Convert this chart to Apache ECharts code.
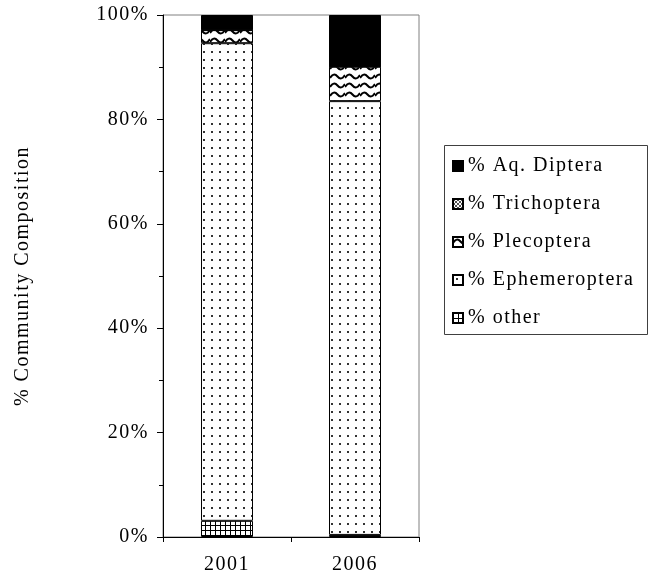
<!DOCTYPE html>
<html>
<head>
<meta charset="utf-8">
<script src="https://cdn.jsdelivr.net/npm/echarts@6/dist/echarts.min.js"></script>
<style>
html,body{margin:0;padding:0;background:#fff;}
#c{width:650px;height:586px;}
</style>
</head>
<body>
<div id="c"></div>
<script>
const categories = ['2001', '2006'];
const seriesNames = ['% other', '% Ephemeroptera', '% Plecoptera', '% Trichoptera', '% Aq. Diptera'];
const other = [3.1, 0.4];
const ephemeroptera = [91.5, 83.1];
const plecoptera = [2.5, 6.6];
const trichoptera = [0, 0];
const diptera = [2.9, 9.9];
const yTicks = [0, 20, 40, 60, 80, 100];
const legendOrder = ['% Aq. Diptera', '% Trichoptera', '% Plecoptera', '% Ephemeroptera', '% other'];

// the reference text is set with slightly spread letters
(function () {
  const proto = CanvasRenderingContext2D.prototype;
  const orig = proto.fillText;
  proto.fillText = function (t, x, y, m) {
    const prev = this.letterSpacing;
    this.letterSpacing = '1.5px';
    if (m === undefined) orig.call(this, t, x, y); else orig.call(this, t, x, y, m);
    this.letterSpacing = prev;
  };
})();

function tile(w, h, draw) {
  const c = document.createElement('canvas');
  c.width = w; c.height = h;
  const g = c.getContext('2d');
  g.fillStyle = '#fff'; g.fillRect(0, 0, w, h);
  draw(g);
  return { image: c, repeat: 'repeat' };
}
const dotPat = tile(8, 8, g => { g.fillStyle = '#333'; g.fillRect(3, 3, 2, 2); });
const gridPat = tile(5, 5, g => { g.fillStyle = '#000'; g.fillRect(0, 0, 5, 1); g.fillRect(0, 0, 1, 5); });
const wavePat = tile(15, 9, g => {
  g.strokeStyle = '#000'; g.lineWidth = 2;
  g.beginPath();
  g.moveTo(0, 6);
  g.quadraticCurveTo(3.75, 0, 7.5, 4.5);
  g.quadraticCurveTo(11.25, 9, 15, 3);
  g.stroke();
});
const trichPat = tile(4, 4, g => { g.fillStyle = '#555'; g.fillRect(0, 0, 2, 2); g.fillRect(2, 2, 2, 2); });

const values = [other, ephemeroptera, plecoptera, trichoptera, diptera];
const fills = [gridPat, dotPat, wavePat, trichPat, '#000'];

const chart = echarts.init(document.getElementById('c'), null, { renderer: 'canvas' });
const font = 'Liberation Serif, Times New Roman, serif';
const fs = 20;
chart.setOption({
  animation: false,
  textStyle: { fontFamily: font },
  grid: { left: 163, right: 231, top: 15, bottom: 49, show: true, borderColor: '#808080', borderWidth: 1, backgroundColor: 'transparent' },
  graphic: [{
    type: 'rect',
    shape: { x: 444.5, y: 145.5, width: 203, height: 189 },
    style: { fill: 'none', stroke: '#404040', lineWidth: 1 },
    z: 10
  }],
  legend: {
    data: legendOrder,
    orient: 'vertical',
    left: 444, top: 145,
    padding: [11, 0, 0, 8],
    itemWidth: 10, itemHeight: 10,
    itemGap: 18,
    itemTextGap: 12,
    icon: 'rect',
    textStyle: { fontFamily: font, fontSize: fs, color: '#000', lineHeight: 20 }
  },
  xAxis: {
    type: 'category',
    data: categories,
    axisLine: { lineStyle: { color: '#000', width: 1 } },
    axisTick: { show: true, length: 5, lineStyle: { color: '#000' } },
    axisLabel: { fontFamily: font, fontSize: fs, color: '#000', margin: 18 }
  },
  yAxis: {
    type: 'value',
    min: yTicks[0], max: yTicks[yTicks.length - 1], interval: 20,
    name: '% Community Composition',
    nameLocation: 'middle',
    nameGap: 130,
    nameRotate: 90,
    nameTextStyle: { fontFamily: font, fontSize: fs, color: '#000' },
    axisLine: { show: true, lineStyle: { color: '#000', width: 1 } },
    axisTick: { show: true, length: 6, lineStyle: { color: '#000' } },
    minorTick: { show: true, splitNumber: 2, length: 4, lineStyle: { color: '#000' } },
    splitLine: { show: false },
    axisLabel: { fontFamily: font, fontSize: fs, color: '#000', margin: 14, formatter: '{value}%' }
  },
  series: seriesNames.map((n, i) => ({
    name: n,
    type: 'bar',
    stack: 'total',
    barWidth: 52,
    data: values[i],
    itemStyle: { color: fills[i], borderColor: '#000', borderWidth: 1 }
  }))
});
</script>
</body>
</html>
